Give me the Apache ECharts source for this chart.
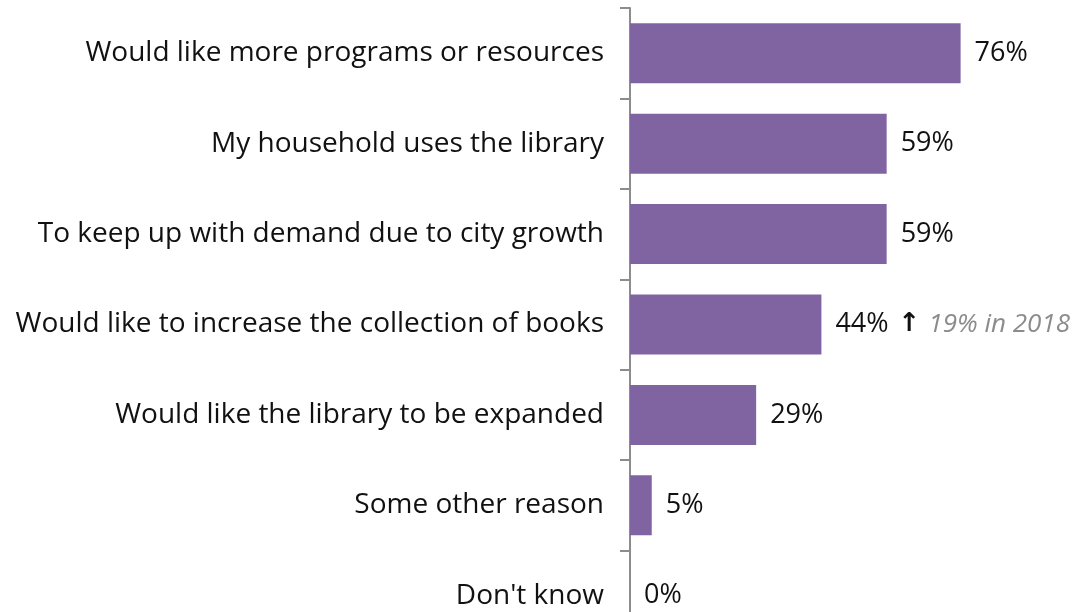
<!DOCTYPE html>
<html>
<head>
<meta charset="utf-8">
<script src="https://cdn.jsdelivr.net/npm/echarts@6/dist/echarts.min.js"></script>
<style>
  html, body { margin: 0; padding: 0; background: #fff; }
  #chart { width: 1087px; height: 612px; }
</style>
</head>
<body>
<div id="chart"></div>
<script>
const categories = [
  'Would like more programs or resources',
  'My household uses the library',
  'To keep up with demand due to city growth',
  'Would like to increase the collection of books',
  'Would like the library to be expanded',
  'Some other reason',
  "Don't know"
]
const values = [76, 59, 59, 44, 29, 5, 0]
// extra note shown beside one bar
const notes = ['', '', '', '19% in 2018', '', '', '']

const chart = echarts.init(document.getElementById('chart'))
chart.setOption({
  animation: false,
  textStyle: { fontFamily: 'Open Sans' },
  grid: { left: 630, right: 22, top: 8, height: 633, outerBoundsMode: 'none', containLabel: false },
  xAxis: { type: 'value', min: 0, max: 100, show: false },
  yAxis: {
    type: 'category',
    inverse: true,
    data: categories,
    axisLine: { show: true, lineStyle: { color: '#8c8c8c', width: 2 } },
    axisTick: { show: true, length: 10, lineStyle: { color: '#8c8c8c', width: 2 } },
    axisLabel: { color: '#111', fontSize: 28, margin: 26, fontFamily: 'Open Sans' }
  },
  series: [
    {
      type: 'bar',
      data: values,
      barWidth: 60,
      itemStyle: { color: '#8064a2' },
      label: {
        show: true,
        position: 'right',
        distance: 14,
        color: '#111',
        fontSize: 27,
        formatter: p => notes[p.dataIndex]
          ? `${p.value}%{arrow|↑}{note|${notes[p.dataIndex]}}`
          : `${p.value}%`,
        rich: {
          arrow: {
            fontSize: 26, fontWeight: 'bold', fontFamily: 'DejaVu Sans',
            color: '#111', padding: [0, 8, 0, 10]
          },
          note: { fontSize: 26, fontStyle: 'italic', color: '#8c8c8c' }
        }
      }
    }
  ]
})
</script>
</body>
</html>
